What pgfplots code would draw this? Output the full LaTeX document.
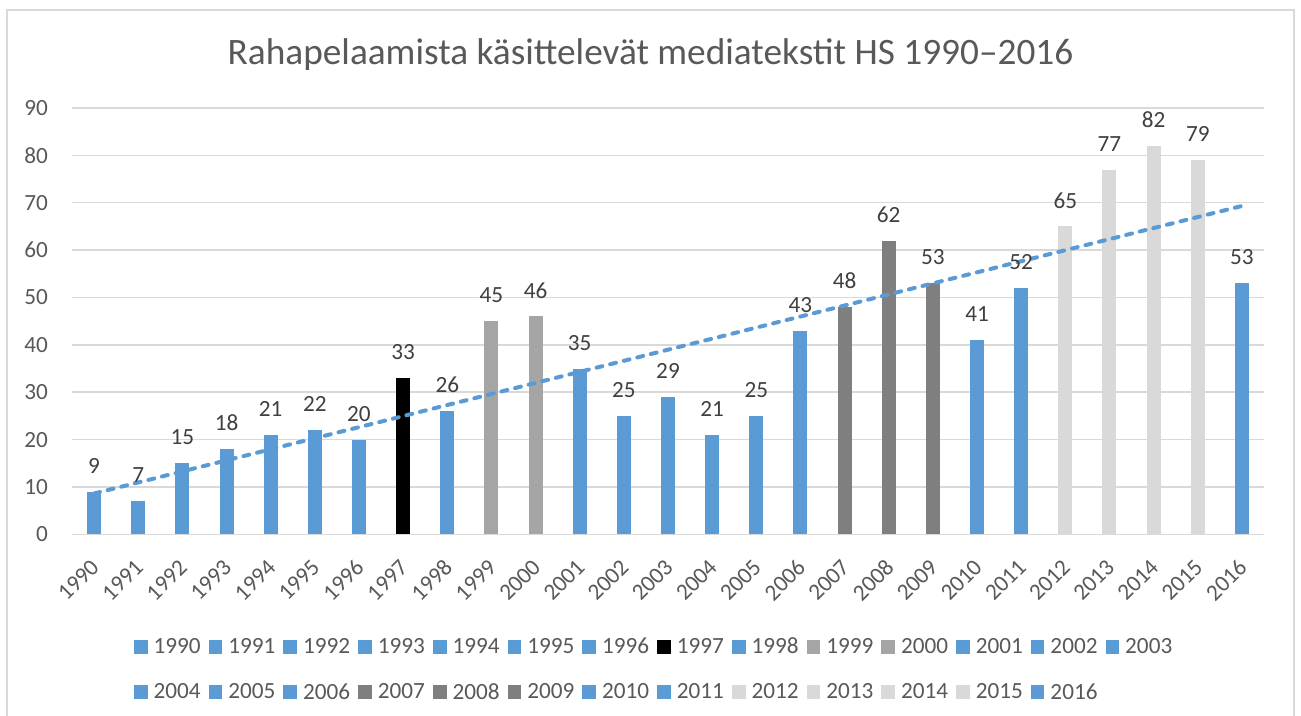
\documentclass[border=0pt]{standalone}
\usepackage{pgfplots}
\pgfplotsset{compat=1.18}
\usepackage{fontspec}
\setmainfont{Carlito}
\definecolor{cblue}{HTML}{5B9BD5}
\definecolor{cblack}{HTML}{000000}
\definecolor{cgrey}{HTML}{A5A5A5}
\definecolor{cdark}{HTML}{7F7F7F}
\definecolor{clight}{HTML}{D9D9D9}
\definecolor{ctext}{HTML}{595959}
\definecolor{clabel}{HTML}{404040}
\definecolor{cgrid}{HTML}{D9D9D9}
\newcommand{\smallf}{\fontsize{23.2bp}{28bp}\selectfont}
\begin{document}
\begin{tikzpicture}
\useasboundingbox (0,0) rectangle (1301bp,716bp);
\fill[white] (0,0) rectangle (1301bp,716bp);
\draw[cgrid, line width=1.5bp] (7bp,-5bp) -- (7bp,706bp) -- (1294bp,706bp) -- (1294bp,-5bp);
\begin{axis}[
  at={(72bp,181.7bp)}, anchor=south west,
  scale only axis, width=1192bp, height=426.3bp,
  ybar, bar width=14bp,
  xmin=-0.5, xmax=26.5, ymin=0, ymax=90,
  ytick={0,10,...,90},
  xtick={0,...,26},
  xticklabels={1990,1991,1992,1993,1994,1995,1996,1997,1998,1999,2000,2001,2002,2003,2004,2005,2006,2007,2008,2009,2010,2011,2012,2013,2014,2015,2016},
  /pgf/number format/assume math mode=true,
  axis line style={draw=none},
  major tick length=0pt,
  ymajorgrids, grid style={cgrid, line width=1.5bp},
  tick label style={font=\smallf, text=ctext},
  yticklabel style={anchor=east, inner sep=0pt, xshift=-24bp},
  xticklabel style={xshift=1bp, yshift=-29bp, rotate=45, anchor=east, inner sep=0pt},
  clip=false,
  legend image code/.code={\fill[#1] (0bp,-7bp) rectangle (13.7bp,7bp);},
  legend columns=14,
  legend cell align=left,
  legend style={at={(0.052,-0.2433)}, anchor=north west, draw=none, fill=none,
    inner sep=0pt, outer sep=0pt, font=\smallf, text=ctext,
    nodes={inner sep=0pt, text=ctext},
    column sep=0pt, row sep=28bp,
    /tikz/every odd column/.append style={column sep=6bp},
    /tikz/every even column/.append style={column sep=8bp}},
  bars/.style={bar shift=0pt, draw=none, fill=#1, nodes near coords,
    every node near coord/.append style={font=\smallf, text=clabel, anchor=south, inner sep=0pt, yshift=18bp}},
]
\addplot[bars=cblue] coordinates {(0,9)}; \addlegendentry{1990}
\addplot[bars=cblue] coordinates {(1,7)}; \addlegendentry{1991}
\addplot[bars=cblue] coordinates {(2,15)}; \addlegendentry{1992}
\addplot[bars=cblue] coordinates {(3,18)}; \addlegendentry{1993}
\addplot[bars=cblue] coordinates {(4,21)}; \addlegendentry{1994}
\addplot[bars=cblue] coordinates {(5,22)}; \addlegendentry{1995}
\addplot[bars=cblue] coordinates {(6,20)}; \addlegendentry{1996}
\addplot[bars=cblack] coordinates {(7,33)}; \addlegendentry{1997}
\addplot[bars=cblue] coordinates {(8,26)}; \addlegendentry{1998}
\addplot[bars=cgrey] coordinates {(9,45)}; \addlegendentry{1999}
\addplot[bars=cgrey] coordinates {(10,46)}; \addlegendentry{2000}
\addplot[bars=cblue] coordinates {(11,35)}; \addlegendentry{2001}
\addplot[bars=cblue] coordinates {(12,25)}; \addlegendentry{2002}
\addplot[bars=cblue] coordinates {(13,29)}; \addlegendentry{2003}
\addplot[bars=cblue] coordinates {(14,21)}; \addlegendentry{2004}
\addplot[bars=cblue] coordinates {(15,25)}; \addlegendentry{2005}
\addplot[bars=cblue] coordinates {(16,43)}; \addlegendentry{2006}
\addplot[bars=cdark] coordinates {(17,48)}; \addlegendentry{2007}
\addplot[bars=cdark] coordinates {(18,62)}; \addlegendentry{2008}
\addplot[bars=cdark] coordinates {(19,53)}; \addlegendentry{2009}
\addplot[bars=cblue] coordinates {(20,41)}; \addlegendentry{2010}
\addplot[bars=cblue] coordinates {(21,52)}; \addlegendentry{2011}
\addplot[bars=clight] coordinates {(22,65)}; \addlegendentry{2012}
\addplot[bars=clight] coordinates {(23,77)}; \addlegendentry{2013}
\addplot[bars=clight] coordinates {(24,82)}; \addlegendentry{2014}
\addplot[bars=clight] coordinates {(25,79)}; \addlegendentry{2015}
\addplot[bars=cblue] coordinates {(26,53)}; \addlegendentry{2016}
\addplot[sharp plot, forget plot, cblue, line width=4bp, line cap=round, dash pattern=on 6bp off 8bp] coordinates {(0,8.61) (26,69.32)};
\end{axis}
\node[anchor=base, text=ctext, font=\fontsize{37.3bp}{44bp}\selectfont] at (650.5bp,651bp) {Rahapelaamista käsittelevät mediatekstit HS 1990–2016};
\end{tikzpicture}
\end{document}
